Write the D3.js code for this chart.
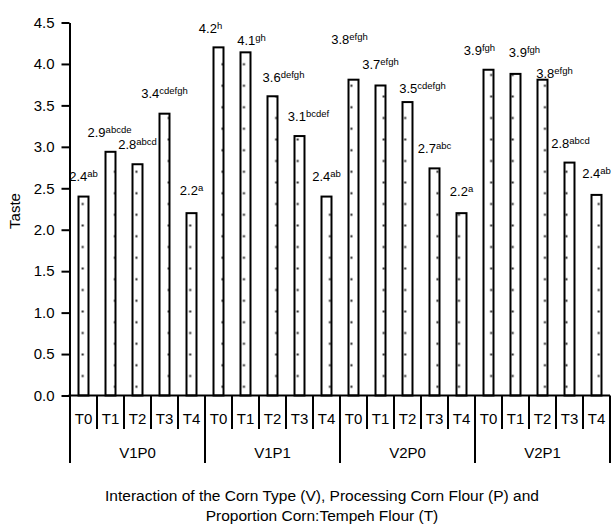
<!DOCTYPE html>
<html><head><meta charset="utf-8">
<script src="https://cdn.jsdelivr.net/npm/d3@7"></script>
<style>
body{margin:0;background:#fff}
svg{display:block}
text{font-family:"Liberation Sans",Arial,sans-serif;fill:#000}
.narrow{font-family:"Liberation Sans Narrow","Arial Narrow","Liberation Sans",sans-serif}
</style>
</head><body>
<svg id="c" width="611" height="529"></svg>
<script>
// ---- data ----
const groups = ["V1P0", "V1P1", "V2P0", "V2P1"];
const treatments = ["T0", "T1", "T2", "T3", "T4"];
const tasteValues = [2.40, 2.94, 2.79, 3.40, 2.20,
                     4.20, 4.14, 3.61, 3.13, 2.40,
                     3.81, 3.74, 3.54, 2.74, 2.20,
                     3.93, 3.88, 3.81, 2.81, 2.42];
const valueLabels = ["2.4","2.9","2.8","3.4","2.2",
                     "4.2","4.1","3.6","3.1","2.4",
                     "3.8","3.7","3.5","2.7","2.2",
                     "3.9","3.9","3.8","2.8","2.4"];
const letters = ["ab","abcde","abcd","cdefgh","a",
                 "h","gh","defgh","bcdef","ab",
                 "efgh","efgh","cdefgh","abc","a",
                 "fgh","fgh","efgh","abcd","ab"];
const yTicks = [0, 0.5, 1.0, 1.5, 2.0, 2.5, 3.0, 3.5, 4.0, 4.5];
const yTitle = "Taste";
const xTitleLines = ["Interaction of the Corn Type (V), Processing Corn Flour (P) and",
                     "Proportion Corn:Tempeh Flour (T)"];

// ---- layout (label nudges, px) ----
const labelDx  = [0,-1,0,0,0, -8,6,11,9,0, -4,0,15,0,0, -9,9,12,1,0];
const labelGap = [16,15,15,16,18, 14,7,14,15,16, 36,16,9,15,17, 15,17,2,15,17];

const svg = d3.select("#c");
const mLeft = 70, mRight = 610, mTop = 22.5, mBottom = 395.5;

const cats = [];
groups.forEach(g => treatments.forEach(t => cats.push(g + "|" + t)));

const x = d3.scaleBand().domain(cats).range([mLeft, mRight]).padding(0);
const y = d3.scaleLinear().domain([0, 4.5]).range([mBottom, mTop]);

// pattern
const s = 10.75;
const defs = svg.append("defs");
const pat = defs.append("pattern").attr("id", "dots")
  .attr("patternUnits", "userSpaceOnUse")
  .attr("width", 2 * s).attr("height", 2 * s)
  .attr("x", 82.7 - s / 2).attr("y", 204 - s / 2);
pat.append("rect").attr("width", 2 * s).attr("height", 2 * s).attr("fill", "#fff");
pat.append("rect").attr("x", s / 2 - 1).attr("y", s / 2 - 1).attr("width", 2).attr("height", 2).attr("fill", "#222");
pat.append("rect").attr("x", 1.5 * s - 1).attr("y", 1.5 * s - 1).attr("width", 2).attr("height", 2).attr("fill", "#222");

// bars
const bw = x.bandwidth() * 0.37;
svg.append("g").selectAll("rect").data(tasteValues).join("rect")
  .attr("x", (d, i) => x(cats[i]) + (x.bandwidth() - bw) / 2)
  .attr("y", d => y(d))
  .attr("width", bw)
  .attr("height", d => mBottom - y(d))
  .attr("fill", "url(#dots)")
  .attr("stroke", "#000").attr("stroke-width", 2);

// y axis
const yAxis = svg.append("g").attr("transform", `translate(${mLeft - 0.5},0)`)
  .call(d3.axisLeft(y).tickValues(yTicks).tickFormat(d3.format(".1f")).tickSize(8).tickPadding(7).tickSizeOuter(0));
yAxis.select(".domain").attr("stroke-width", 2);
yAxis.selectAll(".tick line").attr("stroke-width", 2);
yAxis.selectAll(".tick text").attr("font-size", 15).attr("font-family", '"Liberation Sans",Arial,sans-serif');

// x axis line
svg.append("line").attr("x1", mLeft - 1.5).attr("x2", mRight).attr("y1", mBottom).attr("y2", mBottom)
  .attr("stroke", "#000").attr("stroke-width", 2);

// separators
const seps = d3.range(cats.length + 1);
svg.append("g").selectAll("line").data(seps).join("line")
  .attr("x1", k => k < cats.length ? x(cats[k]) : mRight)
  .attr("x2", k => k < cats.length ? x(cats[k]) : mRight)
  .attr("y1", mBottom)
  .attr("y2", k => k % treatments.length === 0 ? 463 : 429)
  .attr("stroke", "#000").attr("stroke-width", 2);

// T labels
svg.append("g").selectAll("text").data(cats).join("text")
  .attr("class", "narrow")
  .attr("x", d => x(d) + x.bandwidth() / 2)
  .attr("y", 424)
  .attr("text-anchor", "middle")
  .attr("font-size", 15)
  .text(d => d.split("|")[1]);

// group labels
svg.append("g").selectAll("text").data(groups).join("text")
  .attr("x", g => (x(g + "|" + treatments[0]) + x(g + "|" + treatments[treatments.length - 1]) + x.bandwidth()) / 2)
  .attr("y", 458)
  .attr("text-anchor", "middle")
  .attr("font-size", 15)
  .text(g => g);

// value labels
const lab = svg.append("g").selectAll("text").data(tasteValues).join("text")
  .attr("class", "narrow")
  .attr("x", (d, i) => x(cats[i]) + x.bandwidth() / 2 + labelDx[i])
  .attr("y", (d, i) => y(d) - labelGap[i])
  .attr("text-anchor", "middle")
  .attr("font-size", 13);
lab.append("tspan").text((d, i) => valueLabels[i]);
lab.append("tspan").attr("font-size", 9.5).attr("dy", -4).text((d, i) => letters[i]);

// y title
svg.append("text")
  .attr("transform", "translate(20,211) rotate(-90)")
  .attr("text-anchor", "middle")
  .attr("font-size", 15)
  .text(yTitle);

// x title
svg.append("g").selectAll("text").data(xTitleLines).join("text")
  .attr("x", 322)
  .attr("y", (d, i) => 501 + i * 20)
  .attr("text-anchor", "middle")
  .attr("font-size", 15.5)
  .text(d => d);
</script>
</body></html>
